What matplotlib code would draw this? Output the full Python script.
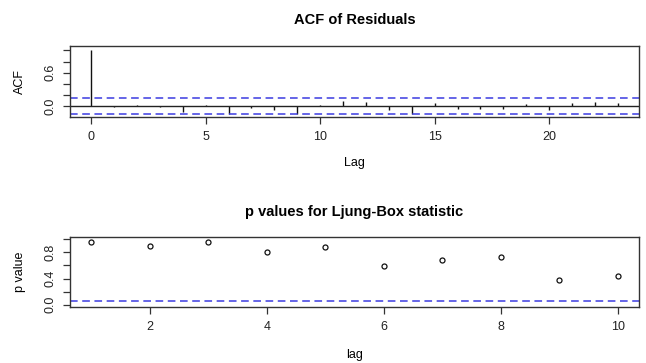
import matplotlib
matplotlib.use("Agg")
import matplotlib.pyplot as plt

# ACF of residuals, lags 0..23
acf_lags = list(range(24))
acf_vals = [1.0, -0.01, 0.02, -0.02, -0.10, 0.02, -0.14, -0.035,
            -0.065, -0.14, 0.025, 0.085, 0.07, -0.065, -0.14, 0.05,
            -0.055, -0.05, -0.055, 0.035, -0.065, 0.06, 0.07, 0.06]
acf_ci = 0.14

# Ljung-Box p values, lags 1..10
lb_lags = list(range(1, 11))
lb_pvals = [0.953, 0.892, 0.958, 0.81, 0.877, 0.596, 0.688, 0.724, 0.372, 0.433]
lb_level = 0.05

FONT = ["Liberation Sans", "DejaVu Sans"]
plt.rcParams["font.family"] = FONT
plt.rcParams["font.size"] = 9

FRAME = "#333333"
BLUE = "#3a3ae0"
DASH = (0, (5, 3))

fig = plt.figure(figsize=(6.46, 3.63), dpi=100)
ax1 = fig.add_axes([70 / 646, 1 - 117.3 / 363, 569 / 646, 71.3 / 363])
ax2 = fig.add_axes([70 / 646, 1 - 307.3 / 363, 569 / 646, 70.6 / 363])


def r_style(ax):
    for sp in ax.spines.values():
        sp.set_color(FRAME)
        sp.set_linewidth(1.0)
    ax.tick_params(direction="out", length=5, width=0.9, color=FRAME,
                   labelcolor="#222222", labelsize=9, pad=5)
    for lab in ax.get_yticklabels():
        lab.set_rotation(90)
        lab.set_va("center")


# --- ACF panel
ax1.vlines(acf_lags, 0, acf_vals, color="#111111", linewidth=1.0)
ax1.axhline(0, color="#222222", linewidth=1.0)
ax1.axhline(acf_ci, color=BLUE, linewidth=1.1, linestyle=DASH)
ax1.axhline(-acf_ci, color=BLUE, linewidth=1.1, linestyle=DASH)
ax1.set_xlim(-0.92, 23.92)
ax1.set_ylim(-0.204, 1.08)
ax1.set_xticks([0, 5, 10, 15, 20])
ax1.set_yticks([0, 0.2, 0.4, 0.6, 0.8, 1.0])
ax1.set_yticklabels(["0.0", "", "", "0.6", "", ""])
r_style(ax1)
ax1.set_title("ACF of Residuals", fontweight="bold", fontsize=10.5, pad=16)
ax1.set_xlabel("Lag")
ax1.xaxis.set_label_coords(0.5, -0.64)
ax1.xaxis.label.set_va("center")
ax1.set_ylabel("ACF")
ax1.yaxis.set_label_coords(-0.088, 0.5)
ax1.yaxis.label.set_va("center")

# --- Ljung-Box panel
ax2.plot(lb_lags, lb_pvals, linestyle="none", marker="o", markersize=3.6,
         markerfacecolor="none", markeredgecolor="#111111", markeredgewidth=0.9)
ax2.axhline(lb_level, color=BLUE, linewidth=1.1, linestyle=DASH)
ax2.set_xlim(0.64, 10.36)
ax2.set_ylim(-0.04, 1.04)
ax2.set_xticks([2, 4, 6, 8, 10])
ax2.set_yticks([0, 0.2, 0.4, 0.6, 0.8, 1.0])
ax2.set_yticklabels(["0.0", "", "0.4", "", "0.8", ""])
r_style(ax2)
ax2.set_title("p values for Ljung-Box statistic", fontweight="bold",
              fontsize=10.5, pad=15)
ax2.set_xlabel("lag")
ax2.xaxis.set_label_coords(0.5, -0.67)
ax2.xaxis.label.set_va("center")
ax2.set_ylabel("p value")
ax2.yaxis.set_label_coords(-0.088, 0.5)
ax2.yaxis.label.set_va("center")

fig.savefig("out.png", dpi=100)
plt.close(fig)
